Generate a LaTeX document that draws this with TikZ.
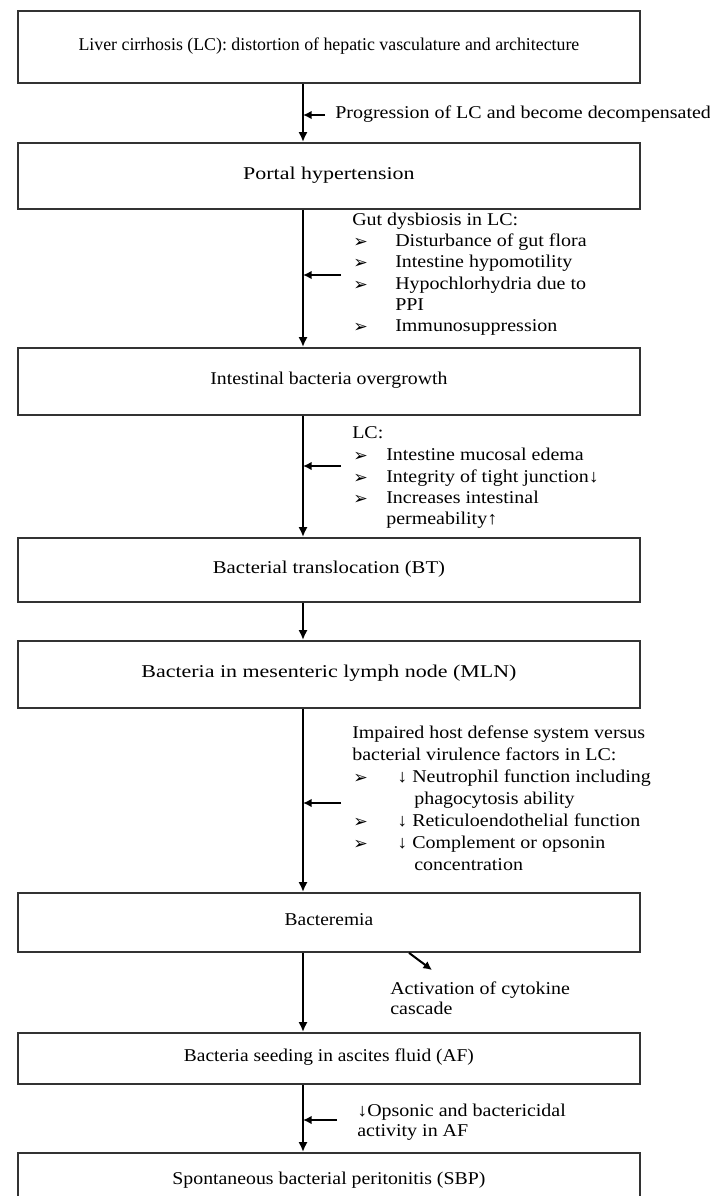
\documentclass[tikz,border=0pt]{standalone}
\usepackage{fontspec}
\setmainfont{Liberation Serif}[FakeStretch=1.11]
\newfontfamily\fA{Liberation Serif}[FakeStretch=0.99]
\newfontfamily\fB{Liberation Serif}[FakeStretch=1.08]
\newfontfamily\fC{Liberation Serif}[FakeStretch=1.1]
\newfontfamily\fD{Liberation Serif}[FakeStretch=1.15]
\newfontfamily\fE{Liberation Serif}[FakeStretch=1.22]
\newfontfamily\dejavu{DejaVu Sans}
\usetikzlibrary{arrows.meta}
\newdimen\px \px=0.75pt
\definecolor{boxgray}{HTML}{333333}
\begin{document}
\begin{tikzpicture}[x=0.75pt,y=-0.75pt,
  every node/.style={inner sep=0pt, font=\fontsize{13.5}{16}\selectfont},
  box/.style={draw=boxgray, line width=1.4pt, fill=white, anchor=north west,
    minimum width=622\px, text height=0.7em, text depth=0.2em},
  ann/.style={anchor=west, text height=0.7em, text depth=0.2em},
  bul/.style={anchor=west, font=\dejavu\fontsize{13}{15}\selectfont},
  conn/.style={line width=2pt, -{Latex[length=7.5pt,width=7pt]}},
  side/.style={line width=1.5pt, -{Latex[length=6.5pt,width=6.5pt]}}]
\useasboundingbox (0,0) rectangle (710,1196);
\clip (0,0) rectangle (710,1196);
\fill[white] (0,0) rectangle (710,1196);

% annotations
\node[ann] (prog) at (335,115) {Progression of LC and become decompensated};

\node[ann] (g0) at (352,222) {Gut dysbiosis in LC:};
\node[bul] (gb1) at (353,243) {➢}; \node[ann] (g1) at (395,243) {Disturbance of gut flora};
\node[bul] (gb2) at (353,264) {➢}; \node[ann] (g2) at (395,264) {Intestine hypomotility};
\node[bul] (gb3) at (353,286) {➢}; \node[ann] (g3) at (395,286) {Hypochlorhydria due to};
\node[ann] (g3b) at (395,307) {PPI};
\node[bul] (gb4) at (353,328) {➢}; \node[ann] (g4) at (395,328) {Immunosuppression};

\node[ann] (l0) at (352,435) {LC:};
\node[bul] (lb1) at (353,457) {➢}; \node[ann] (l1) at (386,457) {Intestine mucosal edema};
\node[bul] (lb2) at (353,479) {➢}; \node[ann] (l2) at (386,479) {Integrity of tight junction↓};
\node[bul] (lb3) at (353,500) {➢}; \node[ann] (l3) at (386,500) {Increases intestinal};
\node[ann] (l3b) at (386,521) {permeability↑};

\node[ann] (i0) at (352,735) {Impaired host defense system versus};
\node[ann] (i0b) at (352,757) {bacterial virulence factors in LC:};
\node[bul] (ib1) at (353,779) {➢}; \node[ann] (i1) at (397,779) {↓ Neutrophil function including};
\node[ann] (i1b) at (414,801) {phagocytosis ability};
\node[bul] (ib2) at (353,823) {➢}; \node[ann] (i2) at (397,823) {↓ Reticuloendothelial function};
\node[bul] (ib3) at (353,845) {➢}; \node[ann] (i3) at (397,845) {↓ Complement or opsonin};
\node[ann] (i3b) at (414,867) {concentration};

\node[ann] (c0) at (390,991) {Activation of cytokine};
\node[ann] (c1) at (390,1011) {cascade};

\node[ann] (o0) at (357,1113) {↓Opsonic and bactericidal};
\node[ann] (o1) at (357,1133) {activity in AF};

% boxes
\node[box, minimum height=72\px] (b1) at (17,10) {\fA Liver cirrhosis (LC): distortion of hepatic vasculature and architecture};
\node[box, minimum height=66\px] (b2) at (17,142) {\fE Portal hypertension};
\node[box, minimum height=67\px] (b3) at (17,347) {\fC Intestinal bacteria overgrowth};
\node[box, minimum height=64\px] (b4) at (17,537) {\fD Bacterial translocation (BT)};
\node[box, minimum height=67\px] (b5) at (17,640) {\fE Bacteria in mesenteric lymph node (MLN)};
\node[box, minimum height=59\px] (b6) at (17,892) {\fB Bacteremia};
\node[box, minimum height=51\px] (b7) at (17,1032) {\fB Bacteria seeding in ascites fluid (AF)};
\node[box, minimum height=56\px] (b8) at (17,1152) {\fC Spontaneous bacterial peritonitis (SBP)};

% connectors
\coordinate (ax) at (303,0);
\draw[conn] (b1.south -| ax) -- (b2.north -| ax);
\draw[conn] (b2.south -| ax) -- (b3.north -| ax);
\draw[conn] (b3.south -| ax) -- (b4.north -| ax);
\draw[conn] (b4.south -| ax) -- (b5.north -| ax);
\draw[conn] (b5.south -| ax) -- (b6.north -| ax);
\draw[conn] (b6.south -| ax) -- (b7.north -| ax);
\draw[conn] (b7.south -| ax) -- (b8.north -| ax);

% side arrows
\draw[side, shorten <=7.5pt] (prog.west) -- (prog.west -| ax);
\coordinate (ga) at (341,275); \draw[side] (ga) -- (ga -| ax);
\coordinate (la) at (341,466); \draw[side] (la) -- (la -| ax);
\coordinate (ia) at (341,803); \draw[side] (ia) -- (ia -| ax);
\coordinate (oa) at (337,1120); \draw[side] (oa) -- (oa -| ax);
\coordinate (ca) at (409,0); \coordinate (cb) at (432,970);
\draw[side] (b6.south -| ca) -- (cb);
\end{tikzpicture}
\end{document}
